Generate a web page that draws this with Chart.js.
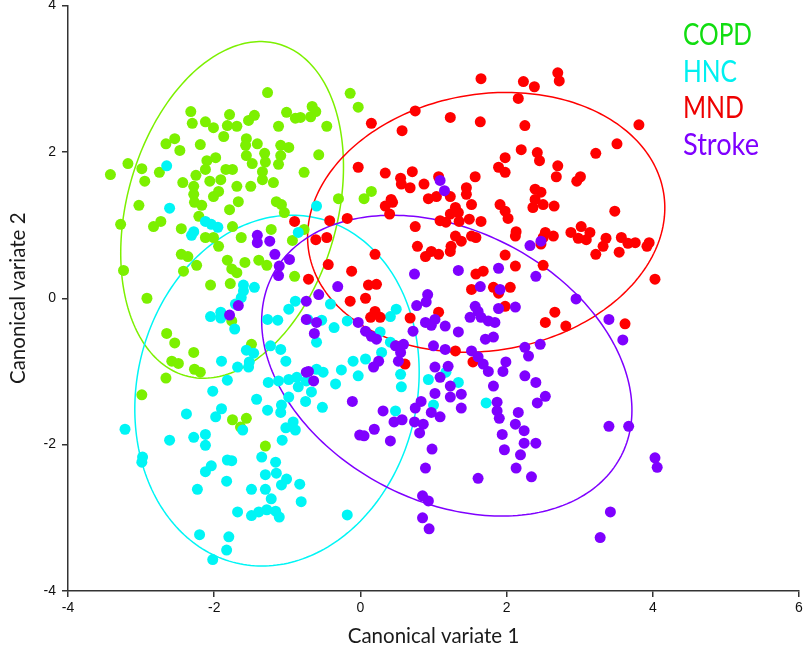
<!DOCTYPE html>
<html>
<head>
<meta charset="utf-8">
<script src="https://cdn.jsdelivr.net/npm/chart.js@4.4.1/dist/chart.umd.min.js"></script>
<style>
  html, body { margin: 0; padding: 0; background: #fff; }
  #wrap { width: 809px; height: 658px; }
</style>
</head>
<body>
<div id="wrap"><canvas id="cvaChart" width="809" height="658"></canvas></div>
<script>
// groups and colours
const groupNames = ['COPD', 'HNC', 'MND', 'Stroke'];
const pointColors = ['#7cf000', '#00f5f5', '#ff0000', '#7f00ff'];
const labelColors = ['#11dd11', '#00f0f0', '#ee0000', '#7f00ff'];
const xTicks = [-4, -2, 0, 2, 4, 6];
const yTicks = [-4, -2, 0, 2, 4];

// canonical variate scores [cv1, cv2]
const copd = [
  [-1.27,2.81],[-2.32,2.55],[-2.30,2.39],[-2.12,2.41],[-2.01,2.33],[-1.87,2.21],[-1.79,2.51],[-1.82,2.36],[-1.69,2.35],[-1.53,2.43],
  [-1.45,2.50],[-1.12,2.35],[-1.01,2.54],[-0.89,2.46],[-0.82,2.47],[-2.54,2.18],[-2.66,2.11],[-2.47,2.02],[-2.19,2.10],[-1.56,2.18],
  [-1.57,2.09],[-1.41,2.11],[-1.09,2.09],[-0.98,2.06],[-3.18,1.84],[-2.99,1.77],[-3.42,1.69],[-2.95,1.60],[-2.75,1.72],[-2.43,1.58],
  [-2.10,1.88],[-1.98,1.92],[-2.12,1.76],[-2.25,1.68],[-1.84,1.76],[-1.75,1.76],[-2.06,1.60],[-2.28,1.53],[-1.91,1.62],[-1.69,1.53],
  [-1.50,1.53],[-1.56,1.95],[-1.48,1.84],[-1.31,1.98],[-1.30,1.86],[-1.34,1.73],[-1.34,1.62],[-1.19,1.58],[-1.12,1.83],[-1.09,1.95],
  [-0.77,1.72],[-2.28,1.42],[-2.01,1.39],[-0.14,2.80],[-0.03,2.61],[-0.66,2.62],[-0.61,2.55],[-0.68,2.48],[-0.46,2.35],[-0.57,1.96],
  [-0.30,1.36],[0.15,1.46],[0.05,1.36],[-1.94,1.46],[-1.67,1.32],[-1.79,1.21],[-2.27,1.31],[-2.17,1.27],[-1.15,1.32],[-1.08,1.28],
  [-1.04,1.17],[-3.03,1.27],[-3.28,1.01],[-2.83,0.98],[-2.73,1.05],[-2.45,0.95],[-2.21,1.12],[-1.75,0.98],[-2.12,0.83],[-2.01,0.83],
  [-1.94,0.71],[-1.63,0.83],[-1.22,0.94],[-0.93,0.79],[-3.24,0.38],[-2.45,0.60],[-2.36,0.57],[-2.24,0.45],[-2.42,0.37],[-1.82,0.52],
  [-1.58,0.49],[-1.39,0.52],[-1.28,0.45],[-1.76,0.40],[-1.69,0.35],[-1.78,0.20],[-2.05,0.18],[-0.90,0.30],[-2.92,0.00],[-1.76,-0.31],
  [-2.65,-0.48],[-2.54,-0.61],[-2.28,-0.74],[-2.58,-0.86],[-2.49,-0.89],[-2.27,-0.97],[-2.19,-1.01],[-2.66,-1.09],[-1.49,-0.63],[-0.77,0.94],
  [-2.99,-1.32],[-1.75,-1.66],[-1.56,-1.64],[-1.64,-1.76],[-1.30,-2.02]
];
const hnc = [
  [-2.65,1.81],[-2.61,1.23],[-2.28,0.91],[-2.31,0.86],[-2.12,1.05],[-2.04,1.01],[-1.95,0.97],[-0.85,0.90],[-1.60,0.18],[-1.45,0.15],
  [-1.60,0.10],[-1.63,0.01],[-1.71,-0.08],[-2.05,-0.25],[-1.91,-0.19],[-1.91,-0.27],[-1.72,-0.42],[-0.89,-0.04],[-0.98,-0.15],[-1.27,-0.29],
  [-1.13,-0.30],[-1.23,-0.65],[-1.09,-0.70],[-1.02,-0.86],[-1.56,-0.71],[-1.46,-0.75],[-1.52,-0.87],[-1.53,-0.94],[-1.68,-0.94],[-1.90,-0.86],
  [-1.82,-1.12],[-1.26,-1.15],[-1.12,-1.13],[-0.98,-1.11],[-0.87,-1.08],[-0.74,-1.13],[-0.60,1.26],[-0.41,-0.08],[-0.72,-0.29],[-0.53,-0.30],
  [-0.18,-0.31],[-0.36,-0.40],[-0.60,-0.60],[0.27,-0.46],[0.41,-0.60],[0.49,-0.15],[0.41,-0.25],[0.29,-0.74],[0.07,-0.83],[-0.10,-0.86],
  [-0.26,-0.98],[-0.60,-0.97],[-0.51,-1.01],[-0.03,-1.06],[0.55,-1.04],[0.93,-1.11],[1.17,-1.01],[1.34,-1.15],[-0.34,-1.17],[0.56,-1.21],
  [-2.02,-1.27],[-2.38,-1.58],[-1.98,-1.62],[-1.90,-1.51],[-1.61,-1.80],[-3.22,-1.79],[-2.61,-1.94],[-2.28,-1.90],[-2.12,-1.86],[-2.12,-2.01],
  [-2.98,-2.17],[-2.99,-2.24],[-1.82,-2.21],[-1.76,-2.22],[-2.04,-2.29],[-2.12,-2.37],[-1.83,-2.50],[-2.23,-2.61],[-1.42,-1.38],[-1.27,-1.53],
  [-1.08,-1.46],[-1.09,-1.56],[-0.98,-1.35],[-0.85,-1.21],[-0.75,-1.41],[-0.92,-1.69],[-1.02,-1.77],[-0.89,-1.80],[-1.07,-1.94],
  [-1.35,-2.17],[-1.16,-2.24],[-1.30,-2.41],[-1.15,-2.39],[-1.01,-2.47],[-1.08,-2.55],[-0.83,-2.54],[-0.81,-2.78],[-1.49,-2.61],[-1.30,-2.61],
  [-1.22,-2.74],[-1.68,-2.92],[-1.49,-2.97],[-1.39,-2.92],[-1.28,-2.89],[-1.16,-2.91],[-1.11,-2.99],[-2.20,-3.23],[-1.80,-3.26],[-1.83,-3.44],
  [-2.02,-3.57],[-0.67,-1.28],[-0.52,-1.49],[0.48,-1.54],[1.00,-1.46],[1.72,-1.43],[-0.18,-2.96]
];
const mnd = [
  [1.65,3.00],[2.23,2.96],[2.38,2.89],[2.16,2.73],[0.75,2.56],[1.23,2.47],[1.64,2.41],[0.57,2.29],[0.15,2.39],[2.25,2.36],
  [1.98,1.92],[2.20,2.03],[2.42,1.99],[2.45,1.88],[1.89,1.79],[1.98,1.72],[-0.03,1.79],[0.34,1.71],[0.71,1.73],[0.55,1.64],
  [0.56,1.56],[0.68,1.51],[0.87,1.56],[1.07,1.66],[1.57,1.66],[1.45,1.51],[1.45,1.42],[2.39,1.49],[2.47,1.45],[0.93,1.36],
  [1.04,1.39],[1.23,1.39],[0.42,1.35],[2.70,3.08],[2.72,2.97],[3.81,2.37],[3.51,2.11],[3.22,1.98],[2.70,1.81],[2.68,1.66],
  [3.01,1.66],[2.96,1.60],[0.44,1.31],[0.34,1.26],[0.40,1.15],[1.30,1.24],[1.52,1.28],[1.23,1.15],[1.34,1.17],[1.09,1.06],
  [1.17,1.04],[1.35,1.05],[1.49,1.08],[1.65,1.05],[1.91,1.28],[1.98,1.19],[2.02,1.09],[2.39,1.35],[2.50,1.28],[2.36,1.24],
  [-0.18,1.09],[-0.42,1.06],[0.75,0.98],[2.13,0.91],[2.12,0.85],[1.30,0.85],[1.38,0.78],[1.52,0.85],[1.58,0.83],[2.50,0.83],
  [2.47,0.74],[-0.61,0.80],[-0.46,0.83],[0.78,0.71],[0.89,0.57],[0.97,0.64],[1.07,0.60],[1.23,0.64],[1.24,0.71],[0.20,0.60],
  [1.98,0.59],[2.12,0.44],[-0.44,0.46],[-0.12,0.37],[1.68,0.37],[1.58,0.33],[2.50,0.45],[-0.71,0.26],[0.11,0.18],[0.22,0.19],
  [1.82,0.15],[2.05,0.15],[1.52,0.12],[1.89,0.07],[-0.14,-0.04],[0.07,0.00],[0.20,-0.18],[0.14,-0.26],[0.27,-0.26],[1.98,-0.11],
  [0.68,-0.27],[1.07,-0.19],[2.53,-0.33],[1.30,-0.72],[1.54,-0.87],[0.61,-0.90],[2.65,1.26],[3.48,1.19],[2.53,0.90],[2.64,0.85],
  [2.88,0.90],[3.02,0.98],[3.14,0.90],[2.98,0.82],[3.09,0.80],[3.36,0.82],[3.32,0.71],[3.22,0.60],[3.57,0.83],[3.66,0.75],
  [3.76,0.76],[3.95,0.76],[3.92,0.71],[3.54,0.63],[4.03,0.26],[2.66,-0.19],[2.81,-0.38],[3.62,-0.35],[-0.90,1.05]
];
const stroke = [
  [1.09,1.61],[1.15,1.47],[-1.41,0.86],[-1.41,0.76],[-1.24,0.78],[-1.17,0.60],[-0.97,0.53],[-1.11,0.44],[-1.12,0.31],[-1.67,-0.10],
  [-1.79,-0.23],[-0.74,-0.04],[-0.74,-0.29],[-0.74,-1.01],[2.32,0.72],[2.47,0.78],[0.74,0.33],[1.34,0.38],[1.89,0.41],[1.64,0.16],
  [1.91,0.12],[2.40,0.30],[-0.31,0.16],[-0.57,0.05],[0.92,0.05],[0.90,-0.05],[0.77,-0.10],[1.57,-0.11],[1.61,-0.18],[1.89,-0.14],
  [2.12,-0.12],[1.50,-0.26],[1.65,-0.26],[1.75,-0.31],[1.84,-0.33],[0.89,-0.33],[1.02,-0.29],[0.97,-0.37],[1.16,-0.38],[1.34,-0.46],
  [0.72,-0.45],[1.71,-0.56],[1.82,-0.53],[-0.03,-0.33],[0.07,-0.45],[0.15,-0.52],[0.22,-0.56],[-0.60,-0.33],[-0.63,-0.48],[0.48,-0.65],
  [0.59,-0.63],[0.55,-0.74],[0.52,-0.86],[1.00,-0.65],[1.16,-0.70],[1.52,-0.72],[1.61,-0.80],[1.68,-0.90],[1.99,-0.87],[2.25,-0.67],
  [2.30,-0.79],[2.46,-0.63],[1.95,-1.00],[1.75,-1.00],[1.02,-0.94],[1.20,-0.93],[1.09,-1.08],[0.25,-0.86],[0.18,-0.94],[-0.71,-1.00],
  [-0.64,-1.13],[1.23,-1.20],[1.82,-1.20],[2.25,-1.06],[2.40,-1.15],[2.95,-0.01],[3.40,-0.29],[3.59,-0.57],[-0.11,-1.41],[0.31,-1.54],
  [0.19,-1.79],[-0.01,-1.87],[0.05,-1.88],[0.41,-1.95],[0.46,-1.69],[0.57,-1.66],[0.75,-1.50],[0.83,-1.41],[0.74,-1.69],[0.86,-1.72],
  [0.81,-1.84],[0.97,-1.56],[1.02,-1.30],[1.09,-1.62],[1.23,-1.35],[1.38,-1.31],[1.38,-1.50],[0.98,-2.06],[0.89,-2.32],[0.85,-2.70],
  [0.93,-2.77],[0.85,-3.00],[0.94,-3.15],[1.61,-2.46],[1.87,-1.42],[1.87,-1.54],[1.90,-1.64],[1.94,-1.86],[1.97,-2.07],[2.12,-1.72],
  [2.16,-1.56],[2.24,-1.81],[2.24,-1.98],[2.40,-1.98],[2.19,-2.14],[2.13,-2.32],[2.34,-2.44],[2.42,-1.43],[2.53,-1.34],[3.40,-1.75],
  [3.67,-1.75],[4.03,-2.18],[4.06,-2.31],[3.42,-2.92],[3.28,-3.27]
];

// group ellipses: centre cv1, centre cv2, semi-major, semi-minor, angle (deg)
const copdEllipse = [-1.755, 1.207, 2.354, 1.439, 74.4];
const hncEllipse = [-1.141, -1.262, 2.421, 1.915, 76.7];
const mndEllipse = [1.721, 1.037, 2.460, 1.752, 9.5];
const strokeEllipse = [1.182, -0.921, 2.685, 1.851, -27.3];

const groupData = [copd, hnc, mnd, stroke];
const ellipses = [copdEllipse, hncEllipse, mndEllipse, strokeEllipse];

const tickFont = "'Liberation Sans Narrow', 'Arial Narrow', 'Liberation Sans', sans-serif";
const textFont = "Lato, 'Open Sans', sans-serif";

// draw the ellipses through the chart scales
const ellipsePlugin = {
  id: 'groupEllipses',
  beforeDatasetsDraw(chart) {
    const { ctx, scales: { x, y } } = chart;
    ellipses.forEach((e, i) => {
      const [cx, cy, a, b, deg] = e;
      const th = deg * Math.PI / 180;
      ctx.save();
      ctx.beginPath();
      for (let k = 0; k <= 240; k++) {
        const t = k / 240 * 2 * Math.PI;
        const dx = a * Math.cos(t), dy = b * Math.sin(t);
        const px = x.getPixelForValue(cx + dx * Math.cos(th) - dy * Math.sin(th));
        const py = y.getPixelForValue(cy + dx * Math.sin(th) + dy * Math.cos(th));
        if (k === 0) ctx.moveTo(px, py); else ctx.lineTo(px, py);
      }
      ctx.closePath();
      ctx.strokeStyle = pointColors[i];
      ctx.lineWidth = 1.5;
      ctx.stroke();
      ctx.restore();
    });
  }
};

// coloured group names in the top right corner
const labelWidths = [69, 54, 61, 76];
const groupLabelPlugin = {
  id: 'groupLabels',
  afterDraw(chart) {
    const ctx = chart.ctx;
    ctx.save();
    ctx.font = '30px ' + textFont;
    ctx.textAlign = 'left';
    ctx.textBaseline = 'alphabetic';
    groupNames.forEach((name, i) => {
      ctx.fillStyle = labelColors[i];
      ctx.fillText(name, 683, 45 + i * 36.7, labelWidths[i]);
    });
    ctx.restore();
  }
};

const datasets = groupNames.map((name, i) => ({
  label: name,
  data: groupData[i].map(p => ({ x: p[0], y: p[1] })),
  pointRadius: 5.5,
  pointHoverRadius: 5.5,
  pointBorderWidth: 0,
  backgroundColor: pointColors[i],
  borderColor: pointColors[i],
  order: 4 - i
}));

new Chart(document.getElementById('cvaChart').getContext('2d'), {
  type: 'scatter',
  data: { datasets: datasets },
  options: {
    responsive: false,
    animation: false,
    devicePixelRatio: 1,
    layout: { padding: { top: 5, right: 10, left: 0, bottom: 0 } },
    plugins: { legend: { display: false }, tooltip: { enabled: false } },
    scales: {
      x: {
        type: 'linear', min: -4, max: 6,
        afterBuildTicks: s => { s.ticks = xTicks.map(v => ({ value: v })); },
        afterFit: s => { s.height = 67; },
        grid: { drawOnChartArea: false, drawTicks: true, tickLength: 6, color: '#333', lineWidth: 1.5 },
        border: { color: '#333', width: 1.5 },
        ticks: { color: '#111', font: { family: tickFont, size: 14 }, padding: 3, maxRotation: 0 },
        title: { display: true, text: 'Canonical variate 1', color: '#1a1a1a', font: { family: textFont, size: 20.5 }, padding: { top: 0, bottom: 9 } }
      },
      y: {
        type: 'linear', min: -4, max: 4,
        afterBuildTicks: s => { s.ticks = yTicks.map(v => ({ value: v })); },
        afterFit: s => { s.width = 68; s.paddingTop = 0; s.paddingBottom = 0; },
        grid: { drawOnChartArea: false, drawTicks: true, tickLength: 6, color: '#333', lineWidth: 1.5 },
        border: { color: '#333', width: 1.5 },
        ticks: { color: '#111', font: { family: tickFont, size: 14 }, padding: 6 },
        title: { display: true, text: 'Canonical variate 2', color: '#1a1a1a', font: { family: textFont, size: 20.5 }, padding: { top: 6, bottom: 0 } }
      }
    }
  },
  plugins: [ellipsePlugin, groupLabelPlugin]
});
</script>
</body>
</html>
